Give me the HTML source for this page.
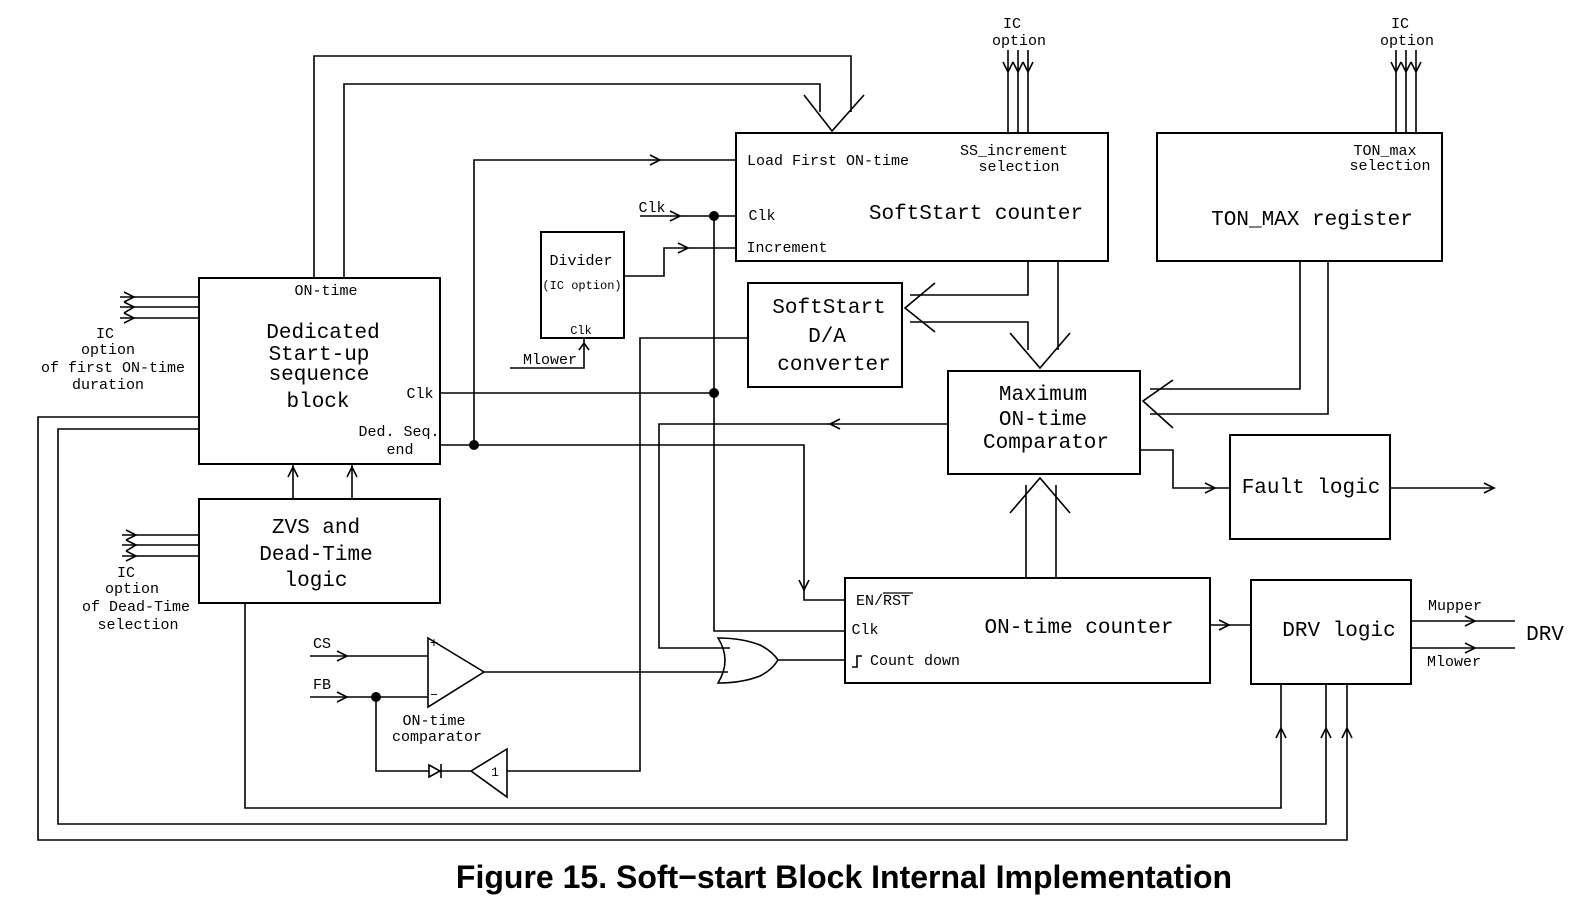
<!DOCTYPE html>
<html><head><meta charset="utf-8"><style>
html,body{margin:0;padding:0;background:#fff;}
svg{display:block;}
text{font-family:"Liberation Mono","DejaVu Sans Mono",monospace;fill:#000;}
</style></head><body>
<svg width="1590" height="920" viewBox="0 0 1590 920" xmlns="http://www.w3.org/2000/svg">
<g fill="none" stroke="#000" stroke-width="2">
<rect x="199" y="278" width="241" height="186"/>
<rect x="199" y="499" width="241" height="104"/>
<rect x="541" y="232" width="83" height="106"/>
<rect x="736" y="133" width="372" height="128"/>
<rect x="1157" y="133" width="285" height="128"/>
<rect x="748" y="283" width="154" height="104"/>
<rect x="948" y="371" width="192" height="103"/>
<rect x="1230" y="435" width="160" height="104"/>
<rect x="845" y="578" width="365" height="105"/>
<rect x="1251" y="580" width="160" height="104"/>
</g>
<g fill="none" stroke="#000" stroke-width="1.6">
<polyline points="314,278 314,56 851,56 851,112"/>
<polyline points="344,278 344,84 820,84 820,112"/>
<polyline points="804,95 832,131 864,95"/>
<line x1="1008" y1="50" x2="1008" y2="133"/><line x1="1018" y1="50" x2="1018" y2="133"/><line x1="1028" y1="50" x2="1028" y2="133"/>
<polyline points="1003,62 1008,72 1013,62"/><polyline points="1013,62 1018,72 1023,62"/><polyline points="1023,62 1028,72 1033,62"/>
<line x1="1396" y1="50" x2="1396" y2="133"/><line x1="1406" y1="50" x2="1406" y2="133"/><line x1="1416" y1="50" x2="1416" y2="133"/>
<polyline points="1391,62 1396,72 1401,62"/><polyline points="1401,62 1406,72 1411,62"/><polyline points="1411,62 1416,72 1421,62"/>
<line x1="120" y1="297" x2="199" y2="297"/><line x1="120" y1="307" x2="199" y2="307"/><line x1="120" y1="318" x2="199" y2="318"/>
<polyline points="124,292 134,297 124,302"/><polyline points="124,302 134,307 124,313"/><polyline points="124,313 134,318 124,323"/>
<line x1="122" y1="535" x2="199" y2="535"/><line x1="122" y1="545" x2="199" y2="545"/><line x1="122" y1="556" x2="199" y2="556"/>
<polyline points="126,530 136,535 126,540"/><polyline points="126,540 136,545 126,551"/><polyline points="126,551 136,556 126,561"/>
<line x1="293" y1="499" x2="293" y2="464"/><polyline points="288,477 293,467 298,477"/>
<line x1="352" y1="499" x2="352" y2="464"/><polyline points="347,477 352,467 357,477"/>
<polyline points="474,445 474,160 736,160"/><polyline points="650,155 660,160 650,165"/>
<line x1="640" y1="216" x2="736" y2="216"/><polyline points="670,211 680,216 670,221"/>
<polyline points="714,216 714,631 845,631"/>
<polyline points="624,276 664,276 664,248 736,248"/><polyline points="678,243 688,248 678,253"/>
<polyline points="510,368 584,368 584,338"/><polyline points="579,350 584,343 589,350"/>
<line x1="440" y1="393" x2="714" y2="393"/>
<polyline points="748,338 640,338 640,771 507,771"/>
<polygon points="507,749 507,797 471,771"/>
<line x1="471" y1="771" x2="441" y2="771"/>
<polygon points="429,765 429,777 440,771"/><line x1="441" y1="764" x2="441" y2="778"/>
<polyline points="429,771 376,771 376,697"/>
<polyline points="440,445 804,445 804,600 845,600"/><polyline points="799,580 804,590 809,580"/>
<polyline points="948,424 659,424 659,648 730,648"/><polyline points="840,419 830,424 840,429"/>
<path d="M718,638 Q742,638 760,645 Q772,651 778,660 Q772,670 760,676 Q742,683 718,683 Q732,660 718,638 Z"/>
<line x1="778" y1="660" x2="845" y2="660"/>
<polygon points="428,638 428,707 484,672"/>
<line x1="484" y1="672" x2="728" y2="672"/>
<line x1="310" y1="656" x2="428" y2="656"/><polyline points="337,651 347,656 337,661"/>
<line x1="310" y1="697" x2="428" y2="697"/><polyline points="337,692 347,697 337,702"/>
<polyline points="1028,261 1028,295 910,295"/>
<polyline points="910,322 1028,322 1028,350"/>
<polyline points="935,283 905,308 935,332"/>
<line x1="1058" y1="261" x2="1058" y2="350"/>
<polyline points="1010,333 1040,368 1070,333"/>
<polyline points="1300,261 1300,389 1150,389"/>
<polyline points="1328,261 1328,414 1150,414"/>
<polyline points="1173,380 1143,401 1173,428"/>
<line x1="1026" y1="578" x2="1026" y2="485"/><line x1="1056" y1="578" x2="1056" y2="485"/>
<polyline points="1010,513 1040,478 1070,513"/>
<polyline points="1140,450 1173,450 1173,488 1230,488"/><polyline points="1205,483 1215,488 1205,493"/>
<line x1="1390" y1="488" x2="1494" y2="488"/><polyline points="1484,483 1494,488 1484,493"/>
<line x1="1210" y1="625" x2="1251" y2="625"/><polyline points="1219,620 1229,625 1219,630"/>
<line x1="1411" y1="621" x2="1515" y2="621"/><polyline points="1465,616 1475,621 1465,626"/>
<line x1="1411" y1="648" x2="1515" y2="648"/><polyline points="1465,643 1475,648 1465,653"/>
<polyline points="245,603 245,808 1281,808 1281,684"/><polyline points="1276,738 1281,728 1286,738"/>
<polyline points="199,417 38,417 38,840 1347,840 1347,684"/><polyline points="1342,738 1347,728 1352,738"/>
<polyline points="199,429 58,429 58,824 1326,824 1326,684"/><polyline points="1321,738 1326,728 1331,738"/>
<polyline points="852,667 857,667 857,656 862,656"/>
<line x1="883" y1="593" x2="913" y2="593" stroke-width="1.2"/>
</g>
<g fill="#000">
<circle cx="714" cy="216" r="5"/><circle cx="714" cy="393" r="5"/><circle cx="474" cy="445" r="5"/><circle cx="376" cy="697" r="5"/>
</g>
<g font-size="15" text-anchor="middle">
<text x="1012" y="28">IC</text><text x="1019" y="45">option</text>
<text x="1400" y="28">IC</text><text x="1407" y="45">option</text>
<text x="326" y="295">ON-time</text>
<text x="420" y="398">Clk</text>
<text x="399" y="436">Ded. Seq.</text><text x="400" y="454">end</text>
<text x="105" y="338">IC</text><text x="108" y="354">option</text>
<text x="113" y="372">of first ON-time</text><text x="108" y="389">duration</text>
<text x="126" y="577">IC</text><text x="132" y="593">option</text>
<text x="136" y="611">of Dead-Time</text><text x="138" y="629">selection</text>
<text x="581" y="265">Divider</text>
<text x="582" y="289" font-size="12">(IC option)</text>
<text x="581" y="334" font-size="12">Clk</text>
<text x="550" y="364">Mlower</text>
<text x="652" y="212">Clk</text>
<text x="828" y="165">Load First ON-time</text>
<text x="762" y="220">Clk</text>
<text x="787" y="252">Increment</text>
<text x="1014" y="155">SS_increment</text><text x="1019" y="171">selection</text>
<text x="1385" y="155">TON_max</text><text x="1390" y="170">selection</text>
<text x="322" y="648">CS</text><text x="322" y="689">FB</text>
<text x="434" y="647" font-size="14">+</text><text x="434" y="698" font-size="14">–</text>
<text x="434" y="725">ON-time</text><text x="437" y="741">comparator</text>
<text x="495" y="776" font-size="13">1</text>
<text x="883" y="605" font-size="15">EN/RST</text>
<text x="865" y="634">Clk</text>
<text x="915" y="665">Count down</text>
<text x="1455" y="610">Mupper</text><text x="1454" y="666">Mlower</text>
</g>
<g font-size="21" text-anchor="middle">
<text x="323" y="338">Dedicated</text><text x="319" y="360">Start-up</text>
<text x="319" y="380">sequence</text><text x="318" y="407">block</text>
<text x="316" y="533">ZVS and</text><text x="316" y="560">Dead-Time</text><text x="316" y="586">logic</text>
<text x="976" y="219">SoftStart counter</text>
<text x="1312" y="225">TON_MAX register</text>
<text x="829" y="313">SoftStart</text><text x="827" y="342">D/A</text><text x="834" y="370">converter</text>
<text x="1043" y="400">Maximum</text><text x="1043" y="425">ON-time</text><text x="1046" y="448">Comparator</text>
<text x="1311" y="493">Fault logic</text>
<text x="1079" y="633">ON-time counter</text>
<text x="1339" y="636">DRV logic</text>
<text x="1545" y="640">DRV</text>
</g>
<text x="844" y="888" text-anchor="middle" style="font-family:'Liberation Sans',sans-serif;font-weight:bold;font-size:32px">Figure 15. Soft−start Block Internal Implementation</text>
</svg>
</body></html>
